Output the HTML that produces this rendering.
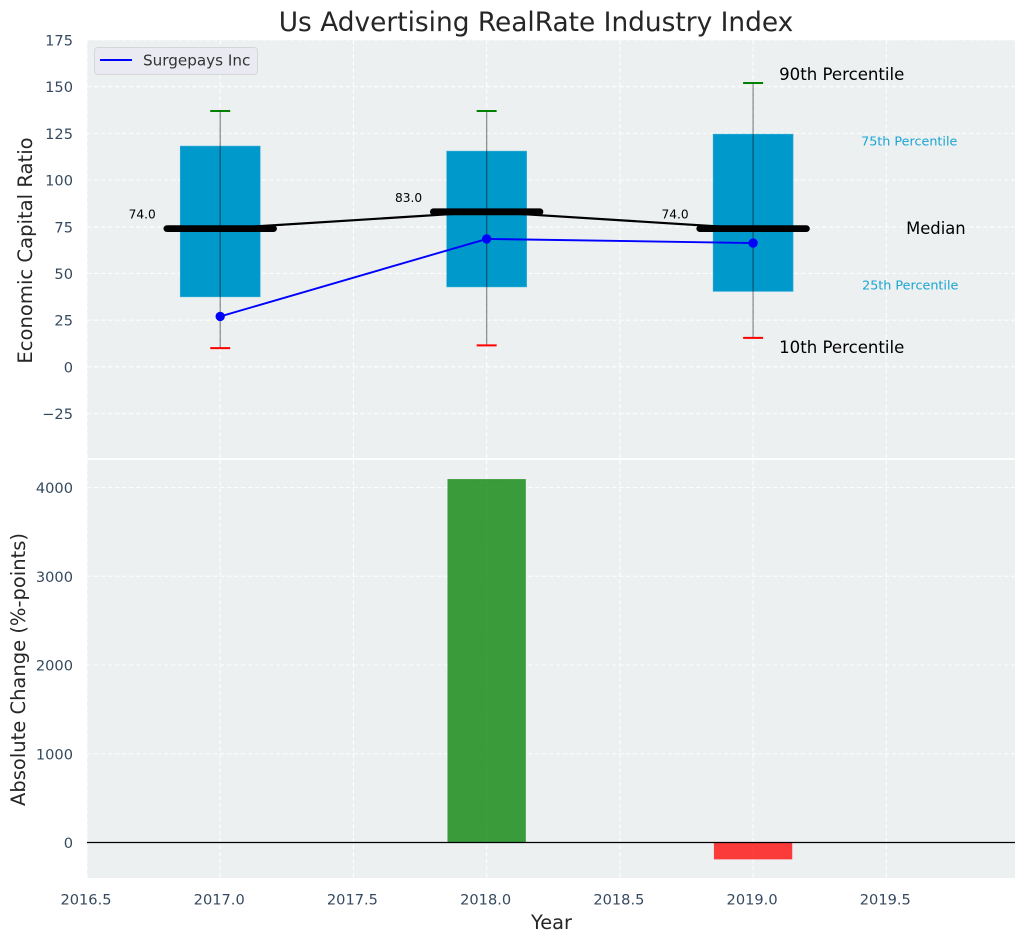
<!DOCTYPE html>
<html><head><meta charset="utf-8"><title>Us Advertising RealRate Industry Index</title>
<style>
html,body{margin:0;padding:0;background:#fff}
svg{display:block}
text{font-family:"DejaVu Sans","Liberation Sans",sans-serif}
</style></head>
<body>
<svg id="chart" width="1026" height="942" viewBox="0 0 1026 942" xmlns="http://www.w3.org/2000/svg"></svg>
<script>
const years = [2017, 2018, 2019];
const p10 = [10, 11.5, 15.5];
const p25 = [37.5, 42.8, 40.4];
const medians = [74, 83, 74];
const p75 = [118.2, 115.5, 124.6];
const p90 = [137, 137, 152];
const companyValues = [27, 68.5, 66.3];
const changeValues = [0, 4095, -190];
const xTicks = [2016.5, 2017, 2017.5, 2018, 2018.5, 2019, 2019.5];
const topTicks = [-25, 0, 25, 50, 75, 100, 125, 150, 175];
const bottomTicks = [0, 1000, 2000, 3000, 4000];
const xDomain = [2016.5, 2019.983];
const topDomain = [-48.8, 175];
const bottomDomain = [-400, 4310];

const svg = document.getElementById('chart');
const NS = 'http://www.w3.org/2000/svg';
const plot = {left: 87, right: 1015, topA: 40, botA: 458, topB: 460, botB: 878};
function x(v){ return plot.left + (v - xDomain[0]) / (xDomain[1] - xDomain[0]) * (plot.right - plot.left); }
function yTop(v){ return plot.botA - (v - topDomain[0]) / (topDomain[1] - topDomain[0]) * (plot.botA - plot.topA); }
function yBot(v){ return plot.botB - (v - bottomDomain[0]) / (bottomDomain[1] - bottomDomain[0]) * (plot.botB - plot.topB); }
function make(tag, attrs, name, interactable){
  const el = document.createElementNS(NS, tag);
  for (const k in attrs) el.setAttribute(k, attrs[k]);
  
  
  svg.appendChild(el);
  return el;
}
function label(str, px, py, size, fill, anchor, name, rot){
  const a = {x: px, y: py, 'font-size': size, fill: fill, 'text-anchor': anchor || 'start'};
  if (rot) a.transform = 'rotate(-90 ' + px + ' ' + py + ')';
  const t = make('text', a, name, false);
  t.textContent = str;
  return t;
}
const tickColor = '#34495e', dark = '#262626', bg = '#ecf0f1';

make('rect', {x: plot.left, y: plot.topA, width: plot.right - plot.left, height: plot.botA - plot.topA, fill: bg}, 'top-panel-background', false);
make('rect', {x: plot.left, y: plot.topB, width: plot.right - plot.left, height: plot.botB - plot.topB, fill: bg}, 'bottom-panel-background', false);

const grid = {stroke: '#fff', 'stroke-width': 1.1, 'stroke-dasharray': '4.5 2.5', opacity: 0.9};
xTicks.forEach(t => {
  make('line', Object.assign({x1: x(t), x2: x(t), y1: plot.topA, y2: plot.botA}, grid), 'top-x-gridline', false);
  make('line', Object.assign({x1: x(t), x2: x(t), y1: plot.topB, y2: plot.botB}, grid), 'bottom-x-gridline', false);
  label(t.toFixed(1), x(t) - 1, 904.5, 14.6, tickColor, 'middle', 'x-tick-label');
});
topTicks.forEach(t => {
  make('line', Object.assign({x1: plot.left, x2: plot.right, y1: yTop(t), y2: yTop(t)}, grid), 'top-y-gridline', false);
  label(t < 0 ? '\u2212' + Math.abs(t) : String(t), 73, yTop(t) + 5.5, 14.6, tickColor, 'end', 'top-y-tick-label');
});
bottomTicks.forEach(t => {
  make('line', Object.assign({x1: plot.left, x2: plot.right, y1: yBot(t), y2: yBot(t)}, grid), 'bottom-y-gridline', false);
  label(String(t), 73, yBot(t) + 5.5, 14.6, tickColor, 'end', 'bottom-y-tick-label');
});

const boxHalf = 0.15, medHalf = 0.2, capHalf = 0.0375;
years.forEach((yr, i) => {
  make('rect', {x: x(yr - boxHalf), y: yTop(p75[i]), width: x(yr + boxHalf) - x(yr - boxHalf), height: yTop(p25[i]) - yTop(p75[i]), fill: '#0099cc', stroke: '#33add6', 'stroke-width': 0.6}, 'percentile-box-' + yr, false);
});
years.forEach((yr, i) => {
  make('line', {x1: x(yr), x2: x(yr), y1: yTop(p90[i]), y2: yTop(p10[i]), stroke: '#000', 'stroke-opacity': 0.42, 'stroke-width': 1.3}, 'whisker-' + yr, false);
  make('line', {x1: x(yr - capHalf), x2: x(yr + capHalf), y1: yTop(p90[i]), y2: yTop(p90[i]), stroke: '#008000', 'stroke-width': 2}, 'p90-cap-' + yr, false);
  make('line', {x1: x(yr - capHalf), x2: x(yr + capHalf), y1: yTop(p10[i]), y2: yTop(p10[i]), stroke: '#ff0000', 'stroke-width': 2}, 'p10-cap-' + yr, false);
});
make('polyline', {points: years.map((yr, i) => x(yr) + ',' + yTop(medians[i])).join(' '), fill: 'none', stroke: '#000', 'stroke-width': 2.2}, 'median-trend-line', false);
years.forEach((yr, i) => {
  make('line', {x1: x(yr - medHalf), x2: x(yr + medHalf), y1: yTop(medians[i]), y2: yTop(medians[i]), stroke: '#000', 'stroke-width': 6.8, 'stroke-linecap': 'round'}, 'median-bar-' + yr, false);
  label(medians[i].toFixed(1), x(yr - 0.293), yTop(medians[i]) - 10, 12.2, '#000', 'middle', 'median-value-' + yr);
});
make('polyline', {points: years.map((yr, i) => x(yr) + ',' + yTop(companyValues[i])).join(' '), fill: 'none', stroke: '#0000ff', 'stroke-width': 1.9}, 'company-line', false);
years.forEach((yr, i) => {
  make('circle', {cx: x(yr), cy: yTop(companyValues[i]), r: 4.7, fill: '#0000ff'}, 'company-point-' + yr, false);
});

const last = years.length - 1, lastYear = years[last];
label('90th Percentile', x(lastYear) + 26, yTop(p90[last]) - 3, 16.6, '#000', 'start', 'p90-annotation');
label('75th Percentile', x(lastYear) + 108, yTop(p75[last]) + 11.5, 12.75, '#1aa5d2', 'start', 'p75-annotation');
label('Median', x(lastYear) + 153, yTop(medians[last]) + 5.5, 16.4, '#000', 'start', 'median-annotation');
label('25th Percentile', x(lastYear) + 109, yTop(p25[last]) - 2, 12.75, '#1aa5d2', 'start', 'p25-annotation');
label('10th Percentile', x(lastYear) + 26, yTop(p10[last]) + 15, 16.6, '#000', 'start', 'p10-annotation');

make('rect', {x: 94.5, y: 47.5, width: 163, height: 27, rx: 3.5, fill: '#eaeaf2', stroke: '#d6d6d8', 'stroke-width': 1}, 'legend-box', false);
make('line', {x1: 100, x2: 132, y1: 60, y2: 60, stroke: '#0000ff', 'stroke-width': 2}, 'legend-line', false);
label('Surgepays Inc', 143, 65.5, 15.2, '#333', 'start', 'legend-entry');

years.forEach((yr, i) => {
  const v = changeValues[i];
  if (v === 0) return;
  const top = yBot(Math.max(v, 0)), bottom = yBot(Math.min(v, 0));
  make('rect', {x: x(yr - 0.147), y: top, width: x(yr + 0.147) - x(yr - 0.147), height: bottom - top, fill: v > 0 ? '#008000' : '#ff0000', 'fill-opacity': 0.76}, 'change-bar-' + yr, false);
});
make('line', {x1: plot.left, x2: plot.right, y1: yBot(0), y2: yBot(0), stroke: '#000', 'stroke-width': 1.3}, 'zero-line', false);

label('Us Advertising RealRate Industry Index', 536, 31, 26.4, dark, 'middle', 'chart-title');
label('Economic Capital Ratio', 32, 250.5, 19.6, dark, 'middle', 'top-y-axis-title', true);
label('Absolute Change (%-points)', 25, 669.5, 19.5, dark, 'middle', 'bottom-y-axis-title', true);
label('Year', 551.5, 929, 19.4, dark, 'middle', 'x-axis-title');
</script>
</body></html>
